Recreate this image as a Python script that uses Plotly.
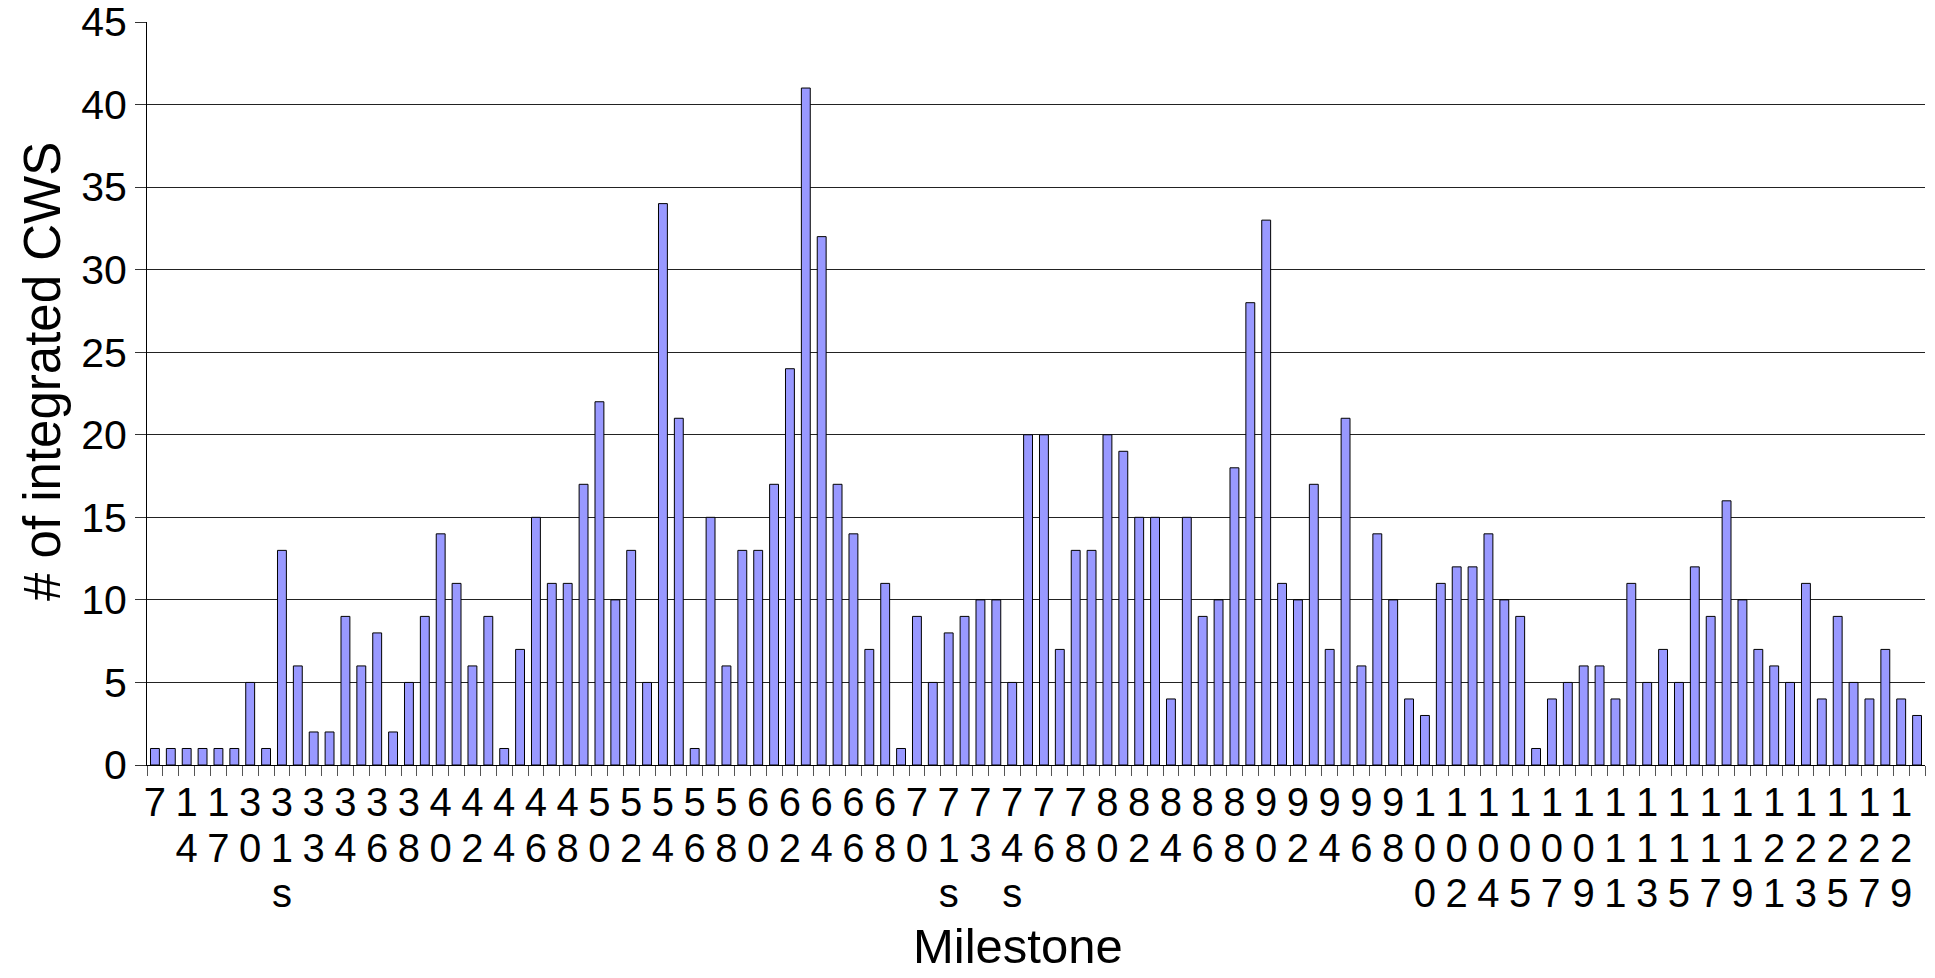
import plotly.graph_objects as go

milestones = ["7", "12", "14", "16", "17", "29", "30", "31", "31s", "32", "33", "33s",
              "34", "35", "36", "37", "38", "39", "40", "41", "42", "43", "44", "45",
              "46", "47", "48", "49", "50", "51", "52", "53", "54", "55", "56", "57",
              "58", "59", "60", "61", "62", "63", "64", "65", "66", "67", "68", "69",
              "70", "71", "71s", "72", "73", "74", "74s", "75", "76", "77", "78", "79",
              "80", "81", "82", "83", "84", "85", "86", "87", "88", "89", "90", "91",
              "92", "93", "94", "95", "96", "97", "98", "99", "100", "101", "102", "103",
              "104", "104s", "105", "106", "107", "108", "109", "110", "111", "112", "113", "114",
              "115", "116", "117", "118", "119", "120", "121", "122", "123", "124", "125", "126",
              "127", "128", "129", "130"]

cws_counts = [1, 1, 1, 1, 1, 1, 5, 1, 13, 6, 2, 2,
              9, 6, 8, 2, 5, 9, 14, 11, 6, 9, 1, 7,
              15, 11, 11, 17, 22, 10, 13, 5, 34, 21, 1, 15,
              6, 13, 13, 17, 24, 41, 32, 17, 14, 7, 11, 1,
              9, 5, 8, 9, 10, 10, 5, 20, 20, 7, 13, 13,
              20, 19, 15, 15, 4, 15, 9, 10, 18, 28, 33, 11,
              10, 17, 7, 21, 6, 14, 10, 4, 3, 11, 12, 12,
              14, 10, 9, 1, 4, 5, 6, 6, 4, 11, 5, 7,
              5, 12, 9, 16, 10, 7, 6, 5, 11, 4, 9, 5,
              4, 7, 4, 3]

tick_labels = ["7", "14", "17", "30", "31s", "33", "34", "36", "38", "40", "42", "44",
               "46", "48", "50", "52", "54", "56", "58", "60", "62", "64", "66", "68",
               "70", "71s", "73", "74s", "76", "78", "80", "82", "84", "86", "88", "90",
               "92", "94", "96", "98", "100", "102", "104", "105", "107", "109", "111", "113",
               "115", "117", "119", "121", "123", "125", "127", "129"]

x_title = "Milestone"
y_title = "# of integrated CWS"

shown = set(tick_labels)


def stacked(label):
    # one character per line, glyphs a little larger than the line pitch font
    return "<br>".join('<span style="font-size:40px">%s</span>' % ch for ch in label)


ticktext = [stacked(m) if m in shown else "" for m in milestones]

FONT = "Liberation Sans, Arial, sans-serif"

fig = go.Figure(
    go.Bar(
        x=milestones,
        y=cws_counts,
        marker=dict(color="#9999FF", line=dict(color="#000000", width=1)),
    )
)

W, H = 1935, 978
ML, MR, MT, MB = 147, 10, 22, 213
PW, PH = W - ML - MR, H - MT - MB

fig.update_layout(
    width=W,
    height=H,
    margin=dict(l=ML, r=MR, t=MT, b=MB),
    paper_bgcolor="white",
    plot_bgcolor="white",
    bargap=0.44,
    showlegend=False,
    font=dict(family=FONT, color="black"),
)

fig.update_xaxes(
    type="category",
    tickmode="array",
    tickvals=milestones,
    ticktext=ticktext,
    tickson="boundaries",
    ticks="outside",
    ticklen=10,
    tickcolor="#555555",
    tickangle=0,
    ticklabelstandoff=8,
    tickfont=dict(family=FONT, size=35, color="black"),
    showgrid=False,
    showline=True,
    linecolor="black",
    linewidth=1,
    automargin=False,
)

fig.update_yaxes(
    range=[0, 45],
    dtick=5,
    tick0=0,
    ticks="outside",
    ticklen=11,
    tickcolor="#333333",
    tickfont=dict(family=FONT, size=41, color="black"),
    ticklabeloverflow="allow",
    showgrid=True,
    gridcolor="#222222",
    gridwidth=1,
    showline=True,
    linecolor="black",
    linewidth=1,
    zeroline=False,
    automargin=False,
)

# axis titles placed as in the reference (slightly off-centre)
fig.add_annotation(
    text=x_title, xref="paper", yref="paper",
    x=(1018 - ML) / PW, y=-(946 - (MT + PH)) / PH,
    xanchor="center", yanchor="middle", showarrow=False,
    font=dict(family=FONT, size=49, color="black"),
)
fig.add_annotation(
    text=y_title, xref="paper", yref="paper",
    x=-(ML - 42) / PW, y=((MT + PH) - 372) / PH,
    xanchor="center", yanchor="middle", textangle=-90, showarrow=False,
    font=dict(family=FONT, size=51, color="black"),
)

fig.write_html("out.html", config={"displayModeBar": False},
               post_script="document.body.style.margin='0';")
